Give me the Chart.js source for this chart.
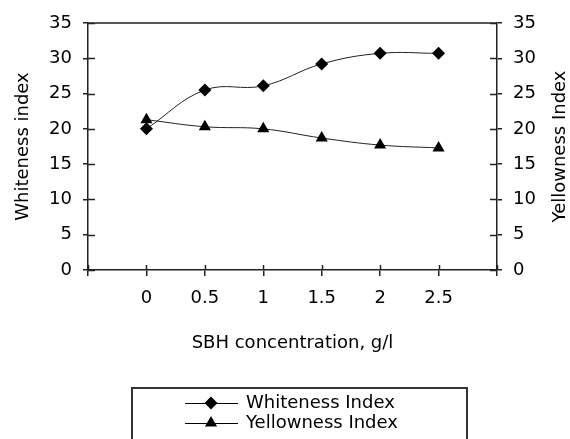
<!DOCTYPE html>
<html>
<head>
<meta charset="utf-8">
<script src="https://cdn.jsdelivr.net/npm/chart.js@4.4.1/dist/chart.umd.min.js"></script>
<style>
  html, body { margin: 0; padding: 0; background: #fff; }
</style>
</head>
<body>
<canvas id="chart" width="570" height="439"></canvas>
<script>
// data
const concentrations = [0, 0.5, 1, 1.5, 2, 2.5];
const whiteness = [20, 25.5, 26.1, 29.2, 30.7, 30.7];
const yellowness = [21.3, 20.3, 20.0, 18.7, 17.7, 17.3];
const seriesNames = ["Whiteness Index", "Yellowness Index"];
const xTitle = "SBH concentration, g/l";
const yTitle = "Whiteness index";
const y1Title = "Yellowness Index";

const FONT = "'DejaVu Sans', sans-serif";
const AXIS = "#222";

const toPoints = (vals) => vals.map((v, i) => ({ x: concentrations[i], y: v }));

// box, inner tick halves, right title and legend
const framePlugin = {
    id: "frame",
    afterDraw(chart) {
        const { ctx, chartArea: a, scales } = chart;
        ctx.save();
        ctx.strokeStyle = AXIS;
        ctx.lineWidth = 1.5;
        ctx.beginPath();
        ctx.moveTo(a.left, a.top);
        ctx.lineTo(a.right, a.top);
        // inner tick parts
        scales.x.ticks.forEach(t => {
            const px = Math.round(scales.x.getPixelForValue(t.value)) + 0.5;
            ctx.moveTo(px, a.bottom);
            ctx.lineTo(px, a.bottom - 5);
        });
        scales.y.ticks.forEach(t => {
            const py = Math.round(scales.y.getPixelForValue(t.value)) + 0.5;
            ctx.moveTo(a.left, py);
            ctx.lineTo(a.left + 7, py);
        });
        scales.y1.ticks.forEach(t => {
            const py = Math.round(scales.y1.getPixelForValue(t.value)) + 0.5;
            ctx.moveTo(a.right, py);
            ctx.lineTo(a.right - 7, py);
        });
        ctx.stroke();

        // right axis title, reading bottom to top
        ctx.fillStyle = "#000";
        ctx.font = "18px " + FONT;
        ctx.textAlign = "center";
        ctx.textBaseline = "middle";
        ctx.save();
        ctx.translate(560, (a.top + a.bottom) / 2 - 0);
        ctx.rotate(-Math.PI / 2);
        ctx.fillText(y1Title, 0, 0);
        ctx.restore();

        // legend box
        ctx.strokeStyle = "#333";
        ctx.lineWidth = 2;
        ctx.strokeRect(132, 388, 335, 80);
        chart.data.datasets.forEach((ds, i) => {
            const ly = 403 + i * 20;
            ctx.strokeStyle = "#000";
            ctx.lineWidth = 1;
            ctx.beginPath();
            ctx.moveTo(185, ly + 0.5);
            ctx.lineTo(238, ly + 0.5);
            ctx.stroke();
            Chart.helpers.drawPoint(ctx, {
                pointStyle: ds.pointStyle,
                radius: ds.pointRadius,
                borderWidth: 0
            }, 211, ly);
            ctx.fillStyle = "#000";
            ctx.textAlign = "left";
            ctx.fillText(seriesNames[i], 246, ly);
        });
        ctx.restore();
    }
};

new Chart(document.getElementById("chart"), {
    type: "line",
    data: {
        datasets: [
            {
                label: seriesNames[0],
                data: toPoints(whiteness),
                yAxisID: "y",
                borderColor: "#222",
                borderWidth: 1,
                backgroundColor: "#000",
                pointStyle: "rectRot",
                pointRadius: 6.5,
                pointBorderWidth: 0,
                tension: 0.4,
            },
            {
                label: seriesNames[1],
                data: toPoints(yellowness),
                yAxisID: "y1",
                borderColor: "#222",
                borderWidth: 1,
                backgroundColor: "#000",
                pointStyle: "triangle",
                pointRadius: 7,
                pointBorderWidth: 0,
                tension: 0.4,
            },
        ],
    },
    options: {
        responsive: false,
        animation: false,
        layout: { padding: { top: 23, left: 0, right: 0, bottom: 0 } },
        plugins: {
            legend: { display: false },
            tooltip: { enabled: false },
        },
        scales: {
            x: {
                type: "linear",
                min: -0.5,
                max: 3,
                afterFit: (s) => { s.height = 169; },
                ticks: {
                    stepSize: 0.5,
                    color: "#000",
                    font: { family: FONT, size: 18 },
                    padding: 12,
                    maxRotation: 0,
                    callback: (v) => (v < 0 || v > 2.5 ? "" : String(v)),
                },
                grid: { drawOnChartArea: false, tickLength: 6, color: AXIS, lineWidth: 1.5 },
                border: { color: AXIS, width: 1.5 },
                title: {
                    display: true,
                    text: xTitle,
                    color: "#000",
                    font: { family: FONT, size: 18 },
                    padding: { top: 0, bottom: 85 },
                },
            },
            y: {
                position: "left",
                min: 0,
                max: 35,
                afterFit: (s) => { s.width = 88; },
                ticks: {
                    stepSize: 5,
                    color: "#000",
                    font: { family: FONT, size: 18 },
                    padding: 11,
                },
                grid: { drawOnChartArea: false, tickLength: 5, color: AXIS, lineWidth: 1.5 },
                border: { color: AXIS, width: 1.5 },
                title: {
                    display: true,
                    text: yTitle,
                    color: "#000",
                    font: { family: FONT, size: 18 },
                    padding: { top: 13, bottom: 0 },
                },
            },
            y1: {
                position: "right",
                min: 0,
                max: 35,
                afterFit: (s) => { s.width = 73; },
                ticks: {
                    stepSize: 5,
                    color: "#000",
                    font: { family: FONT, size: 18 },
                    padding: 11,
                },
                grid: { drawOnChartArea: false, tickLength: 5, color: AXIS, lineWidth: 1.5 },
                border: { color: AXIS, width: 1.5 },
            },
        },
    },
    plugins: [framePlugin],
});
</script>
</body>
</html>
